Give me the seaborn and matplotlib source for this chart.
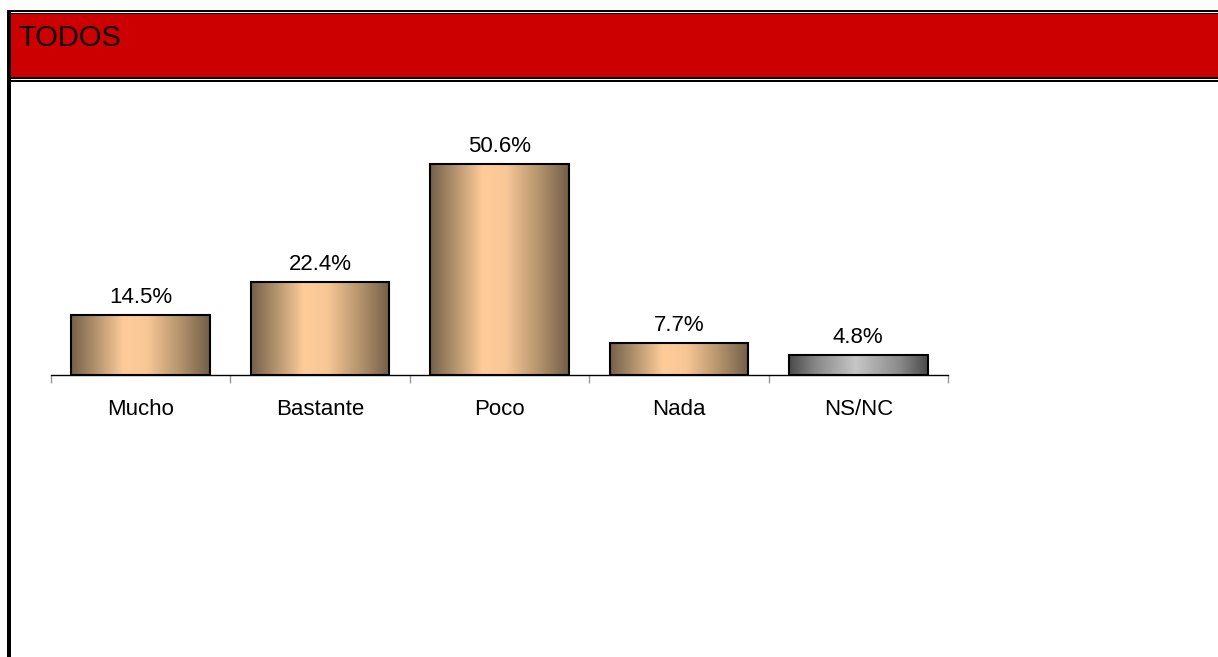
import numpy as np
import pandas as pd
import matplotlib
matplotlib.use("Agg")
import matplotlib.pyplot as plt
from matplotlib.colors import LinearSegmentedColormap
from matplotlib.patches import Rectangle
import seaborn as sns

# Survey answers and their shares (%)
categories = ["Mucho", "Bastante", "Poco", "Nada", "NS/NC"]
values = [14.5, 22.4, 50.6, 7.7, 4.8]
value_labels = ["14.5%", "22.4%", "50.6%", "7.7%", "4.8%"]
title = "TODOS"

sns.set_theme(style="white")
plt.rcParams["font.family"] = ["Liberation Sans", "DejaVu Sans"]

W, H = 1218, 657
fig = plt.figure(figsize=(W / 100, H / 100), dpi=100)
fig.patch.set_facecolor("white")


def fx(px):
    return px / W


def fy(py):
    return 1 - py / H


def frect(x0, y0, x1, y1, color):
    # rectangle given in pixel coordinates measured from the top-left
    fig.add_artist(Rectangle((fx(x0), fy(y1)), fx(x1 - x0), (y1 - y0) / H,
                             transform=fig.transFigure, facecolor=color,
                             edgecolor="none", zorder=5))


# Header band with double black rules
frect(7, 10, W, 12, "black")
frect(7, 13, W, 14, "black")
frect(11, 14, W, 77, "#cc0000")
frect(7, 77, W, 79, "black")
frect(7, 80, W, 82, "black")
# Left border running down the panel
frect(7, 10, 11, H, "black")

fig.text(fx(18), fy(38), title, fontsize=21, color="#0a0a0a",
         va="center", ha="left", zorder=6)

# Plot area: baseline at y=375 px, 0-60 % scale
ax = fig.add_axes([fx(51), fy(375), fx(948 - 51), 250 / H])
df = pd.DataFrame({"cat": categories, "val": values})
sns.barplot(data=df, x="cat", y="val", hue="cat", palette=["#c8a070"] * 4 + ["#999999"],
            legend=False, width=0.772, ax=ax, edgecolor="black", linewidth=1.5,
            saturation=1)

tan = LinearSegmentedColormap.from_list(
    "tan", [(0, "#76604a"), (0.15, "#a88b68"), (0.38, "#ffcc99"),
            (0.55, "#f8c796"), (0.8, "#b0906a"), (1, "#735e48")])
grey = LinearSegmentedColormap.from_list(
    "grey", [(0, "#4a4a4a"), (0.2, "#8a8a8a"), (0.48, "#c6c6c6"),
             (0.8, "#8a8a8a"), (1, "#4a4a4a")])
grad = np.linspace(0, 1, 256).reshape(1, -1)

for i, patch in enumerate(ax.patches):
    x0, y0 = patch.get_x(), patch.get_y()
    w, h = patch.get_width(), patch.get_height()
    cmap = grey if categories[i] == "NS/NC" else tan
    im = ax.imshow(grad, cmap=cmap, aspect="auto", extent=(x0, x0 + w, y0, y0 + h),
                   zorder=2, interpolation="bicubic")
    im.set_clip_path(patch)
    patch.set_facecolor("none")
    patch.set_zorder(3)
    ax.annotate(value_labels[i], (x0 + w / 2, y0 + h), xytext=(0, 5),
                textcoords="offset points", ha="center", va="bottom",
                fontsize=16, color="black")

ax.set_xlim(-0.5, len(categories) - 0.5)
ax.set_ylim(0, 60)
ax.set_xlabel("")
ax.set_ylabel("")
ax.set_yticks([])
ax.set_facecolor("none")
for s in ["left", "right", "top"]:
    ax.spines[s].set_visible(False)
ax.spines["bottom"].set_color("black")
ax.spines["bottom"].set_linewidth(1.0)

ax.set_xticks(range(len(categories)))
ax.set_xticklabels(categories, fontsize=16, color="black")
ax.tick_params(axis="x", which="major", length=0, pad=17)
ax.set_xticks(np.arange(-0.5, len(categories)), minor=True)
ax.tick_params(axis="x", which="minor", length=6, width=1, color="#999999",
               direction="out", bottom=True)

fig.savefig("out.png", dpi=100, facecolor="white")
